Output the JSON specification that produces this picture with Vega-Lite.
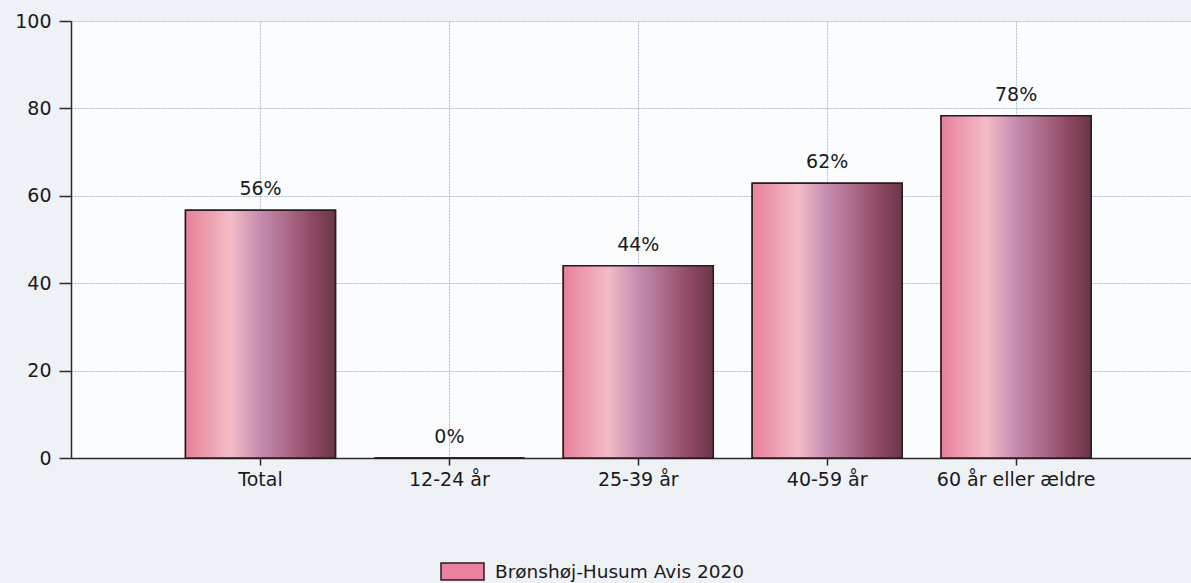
{
  "$schema": "https://vega.github.io/schema/vega-lite/v6.json",
  "width": 1120,
  "height": 437,
  "autosize": {"type": "none"},
  "padding": {"left": 71, "top": 21, "right": 0, "bottom": 125},
  "background": "#eef1f6",
  "config": {
    "view": {"fill": "#fbfcfe", "stroke": null},
    "font": "DejaVu Sans",
    "axis": {
      "labelFont": "DejaVu Sans",
      "labelFontSize": 19,
      "labelColor": "#1a1a1a",
      "domainColor": "#2a2a2a",
      "domainWidth": 1.5,
      "tickColor": "#2a2a2a",
      "tickWidth": 1.5,
      "gridColor": "#b3bccd",
      "gridDash": [2, 1],
      "gridWidth": 1,
      "title": null
    }
  },
  "data": {
    "values": [
      {"group": "Total", "value": 56.7, "label": "56%", "series": "Brønshøj-Husum Avis 2020"},
      {"group": "12-24 år", "value": 0, "label": "0%", "series": "Brønshøj-Husum Avis 2020"},
      {"group": "25-39 år", "value": 44.0, "label": "44%", "series": "Brønshøj-Husum Avis 2020"},
      {"group": "40-59 år", "value": 62.9, "label": "62%", "series": "Brønshøj-Husum Avis 2020"},
      {"group": "60 år eller ældre", "value": 78.3, "label": "78%", "series": "Brønshøj-Husum Avis 2020"}
    ]
  },
  "encoding": {
    "x": {
      "field": "group",
      "type": "nominal",
      "sort": null,
      "scale": {"paddingInner": 0.206, "paddingOuter": 0.5675, "align": 0.534},
      "axis": {"labelAngle": 0, "tickSize": 7, "labelPadding": 5, "grid": true, "domainWidth": 1.5}
    },
    "y": {
      "field": "value",
      "type": "quantitative",
      "scale": {"domain": [0, 100], "nice": false},
      "axis": {"values": [0, 20, 40, 60, 80, 100], "tickSize": 12, "labelPadding": 8, "grid": true}
    }
  },
  "layer": [
    {
      "mark": {"type": "bar", "stroke": "#2a1a20", "strokeWidth": 1.5},
      "encoding": {
        "color": {
          "field": "series",
          "type": "nominal",
          "scale": {"range": ["#e8829e"]},
          "legend": {
            "orient": "none",
            "legendX": 369,
            "legendY": 528,
            "title": null,
            "labelFont": "DejaVu Sans",
            "labelFontSize": 18.5,
            "labelLimit": 500,
            "labelColor": "#1a1a1a",
            "symbolType": "M-1,-0.4H1V0.4H-1Z",
            "symbolSize": 1849,
            "symbolStrokeColor": "#2a1a20",
            "symbolStrokeWidth": 1.5,
            "labelOffset": 10
          }
        }
      }
    },
    {
      "mark": {
        "type": "bar",
        "stroke": "#2a1a20",
        "strokeWidth": 1.5,
        "fill": {
          "gradient": "linear",
          "x1": 0, "y1": 0, "x2": 1, "y2": 0,
          "stops": [
            {"offset": 0, "color": "#e8809a"},
            {"offset": 0.3, "color": "#f3bcc6"},
            {"offset": 0.5, "color": "#c48cb0"},
            {"offset": 0.65, "color": "#b0708e"},
            {"offset": 0.85, "color": "#8e4762"},
            {"offset": 1, "color": "#6a3848"}
          ]
        }
      }
    },
    {
      "mark": {"type": "text", "baseline": "bottom", "dy": -11, "fontSize": 19, "font": "DejaVu Sans", "color": "#1a1a1a"},
      "encoding": {"text": {"field": "label"}}
    }
  ]
}
